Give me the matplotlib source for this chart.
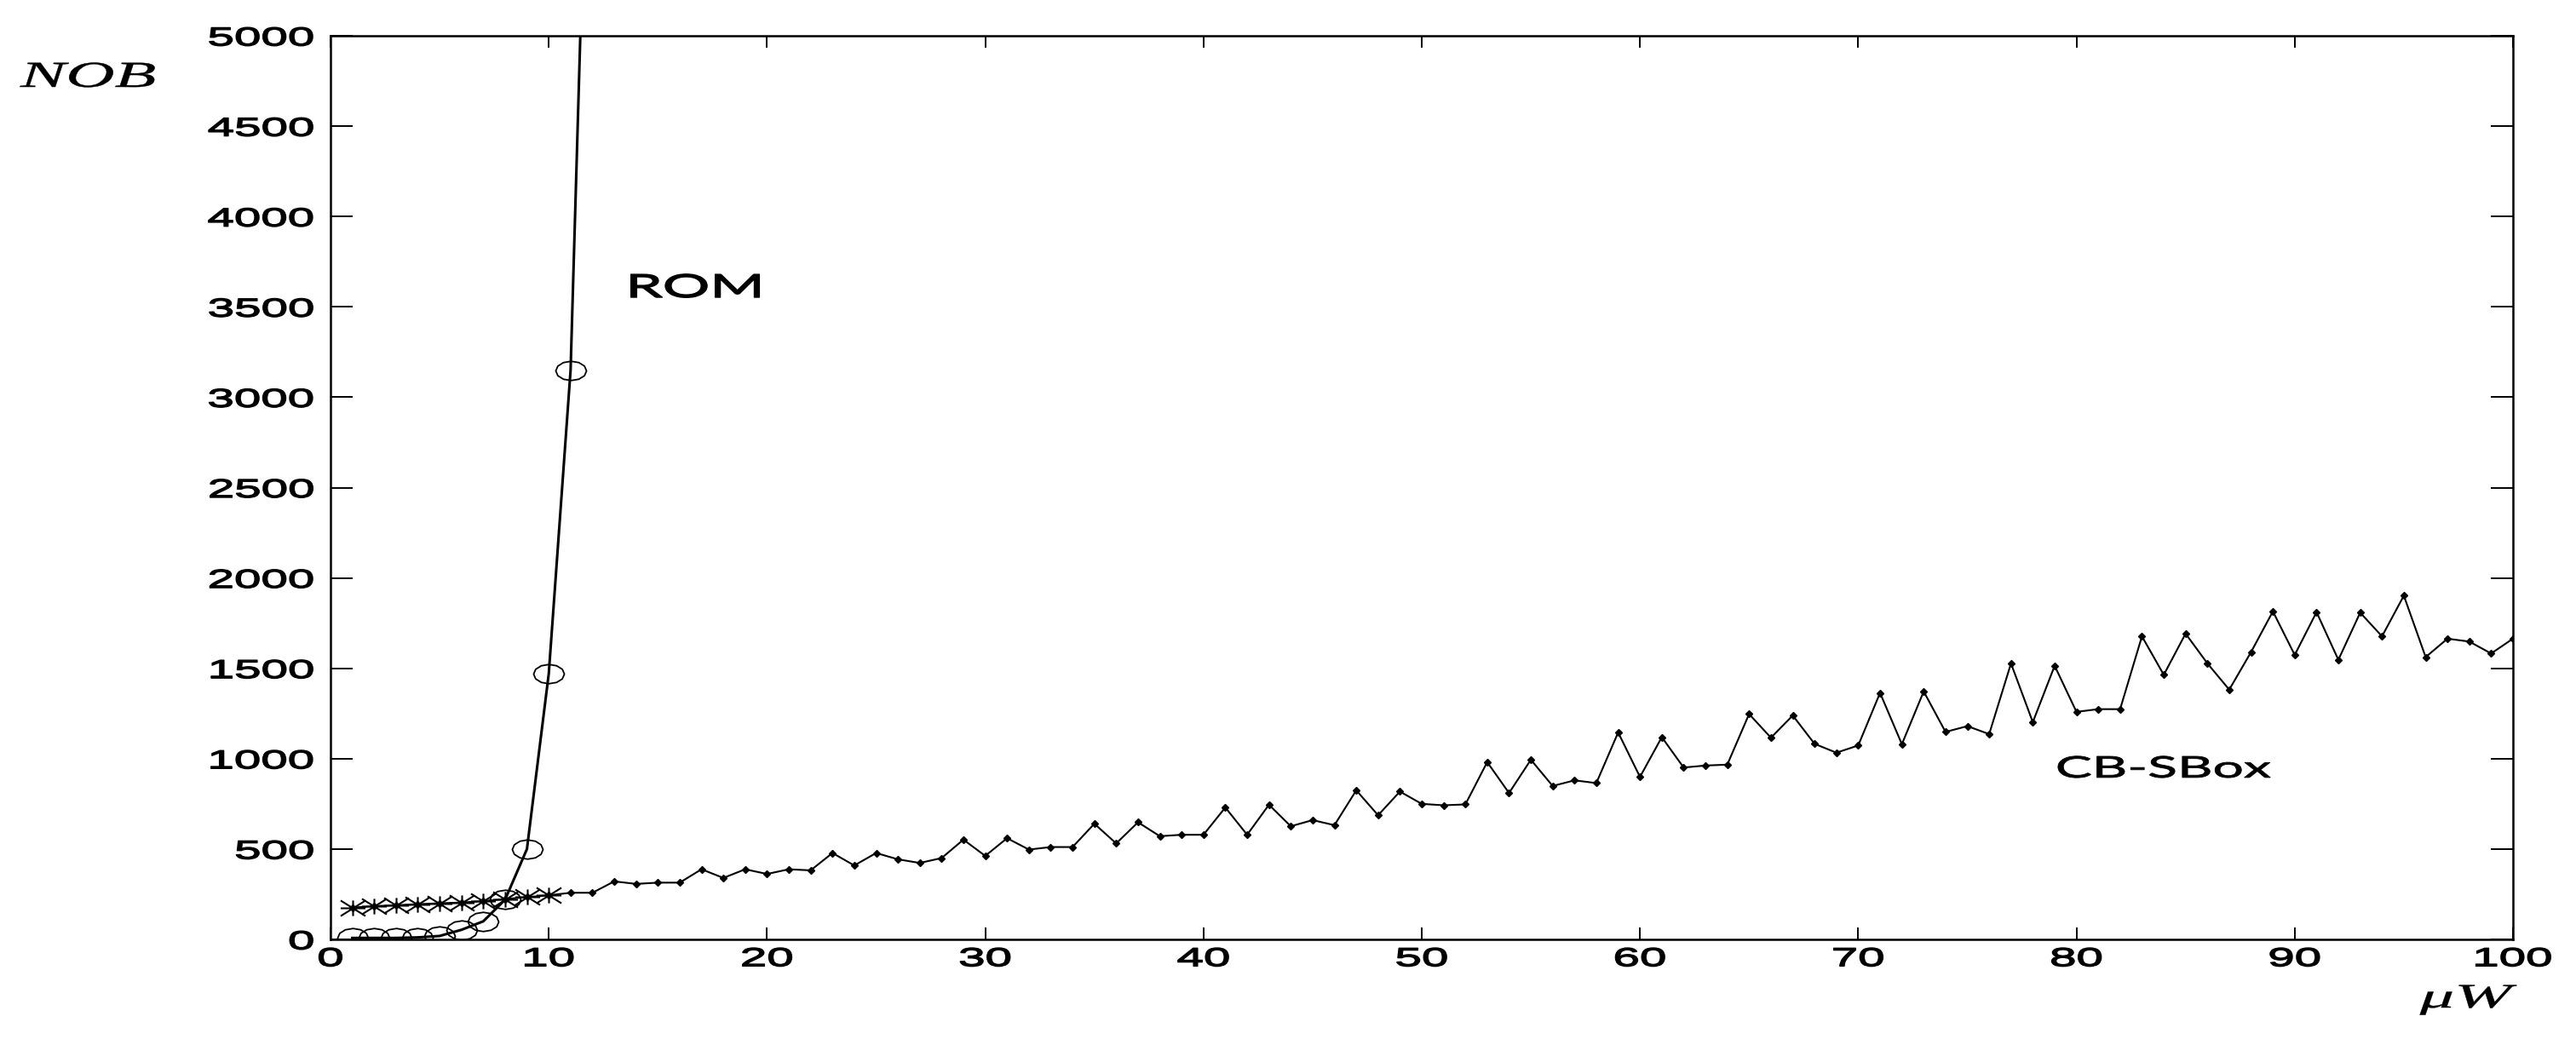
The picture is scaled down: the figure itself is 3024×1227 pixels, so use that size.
import numpy as np
import matplotlib
matplotlib.use("Agg")
import matplotlib.pyplot as plt
from matplotlib.path import Path
from matplotlib.patheffects import AbstractPathEffect
from matplotlib.transforms import Affine2D

# ---------------- data ----------------
rom_x = [1, 2, 3, 4, 5, 6, 7, 8, 9, 10, 11, 12]
rom_y = [8, 8, 8, 11, 19, 53, 100, 220, 500, 1470, 3150, 7300]

cb_x = list(range(1, 101))
cb_y = [176, 184, 189, 195, 200, 204, 212, 223, 234, 244,
        258, 258, 321, 307, 314, 314, 388, 340, 388, 362,
        388, 382, 478, 409, 478, 443, 423, 450, 552, 462,
        560, 497, 511, 511, 640, 531, 648, 571, 579, 579,
        730, 579, 745, 626, 660, 632, 825, 687, 818, 750,
        742, 747, 981, 810, 994, 849, 880, 865, 1145, 899,
        1119, 951, 962, 967, 1247, 1116, 1239, 1082, 1033, 1073,
        1364, 1080, 1372, 1148, 1180, 1136, 1527, 1202, 1514, 1259,
        1274, 1274, 1677, 1464, 1692, 1527, 1382, 1590, 1815, 1574,
        1811, 1547, 1808, 1677, 1902, 1562, 1664, 1648, 1582, 1664]
star_n = 10  # first points drawn with asterisk markers

x_ticks = [0, 10, 20, 30, 40, 50, 60, 70, 80, 90, 100]
y_ticks = [0, 500, 1000, 1500, 2000, 2500, 3000, 3500, 4000, 4500, 5000]
x_label = "μW"
y_label = "NOB"
label_rom = "ROM"
label_cb = "CB-SBox"

# ---------------- helpers ----------------
SX = 1.85


class Stretch(AbstractPathEffect):
    """Draw text stretched horizontally (the reference is a widened image)."""

    def __init__(self, sx=SX, ha="center", stroke=0.6):
        super().__init__((0, 0))
        self.sx = sx
        self.ha = ha
        self.stroke = stroke

    def draw_path(self, renderer, gc, tpath, affine, rgbFace=None):
        ext = tpath.get_extents()
        if self.ha == "right":
            cx = ext.x1
        elif self.ha == "left":
            cx = ext.x0
        else:
            cx = 0.5 * (ext.x0 + ext.x1)
        t = Affine2D().translate(-cx, 0).scale(self.sx, 1).translate(cx, 0) + affine
        gc0 = renderer.new_gc()
        gc0.copy_properties(gc)
        gc0.set_linewidth(self.stroke)
        if rgbFace is not None:
            gc0.set_foreground(rgbFace)
        renderer.draw_path(gc0, tpath, t, rgbFace)
        gc0.restore()


# stretched ellipse marker
th = np.linspace(0, 2 * np.pi, 13)
ell = Path(np.column_stack([1.6 * np.cos(th), np.sin(th)]), closed=True)
# stretched asterisk marker
a = 1.6
ast_v = [(0, -1), (0, 1), (-a, -1), (a, 1), (-a, 1), (a, -1), (-a, 0), (a, 0)]
ast_c = [Path.MOVETO, Path.LINETO] * 4
ast = Path(ast_v, ast_c)

W, H, DPI = 3024, 1227, 100
fig = plt.figure(figsize=(W / DPI, H / DPI), dpi=DPI)
ax = fig.add_axes([388 / W, 1 - 1103 / H, (2950 - 388) / W, (1103 - 42) / H])

ax.plot(cb_x, cb_y, color="black", lw=1.5, marker="D", ms=4.5,
        mfc="black", mec="black", zorder=3)
ax.plot(cb_x[:star_n], cb_y[:star_n], ls="none", marker=ast, ms=21,
        mfc="none", mec="black", mew=1.5, zorder=4)
ax.plot(rom_x, rom_y, color="black", lw=2.2, marker=ell, ms=26,
        mfc="none", mec="black", mew=1.3, zorder=4)

ax.set_xlim(0, 100)
ax.set_ylim(0, 5000)
ax.set_xticks(x_ticks)
ax.set_yticks(y_ticks)
ax.set_xticklabels([str(v) for v in x_ticks])
ax.set_yticklabels([str(v) for v in y_ticks])

for sp in ax.spines.values():
    sp.set_linewidth(1.8)
ax.tick_params(axis="x", direction="in", length=10, width=1.4, top=True,
               pad=6, labelsize=22)
ax.tick_params(axis="y", direction="in", length=19, width=1.4, right=True,
               pad=14, labelsize=22)
for lab in ax.get_xticklabels():
    lab.set_fontfamily("Liberation Sans")
    lab.set_path_effects([Stretch(SX, "center", 1.0)])
for lab in ax.get_yticklabels():
    lab.set_fontfamily("Liberation Sans")
    lab.set_path_effects([Stretch(SX, "right", 1.0)])

fig.text(103 / W, 1 - 102 / H, y_label, family="Liberation Serif",
         style="italic", fontsize=31, ha="center", va="baseline",
         path_effects=[Stretch(SX, "center", 0.3)])
fig.text(2896 / W, 1 - 1183 / H, x_label, family="Liberation Serif",
         style="italic", fontsize=29, ha="center", va="baseline",
         path_effects=[Stretch(2.0, "center", 0.3)])

ax.text(16.7, 3605, label_rom, family="Lato", fontsize=27, ha="center",
        va="center", path_effects=[Stretch(SX, "center", 1.0)])
ax.text(84.0, 943, label_cb, family="Lato", fontsize=25, ha="center",
        va="center", path_effects=[Stretch(SX, "center", 0.6)])

fig.savefig("out.png", dpi=DPI, facecolor="white")
